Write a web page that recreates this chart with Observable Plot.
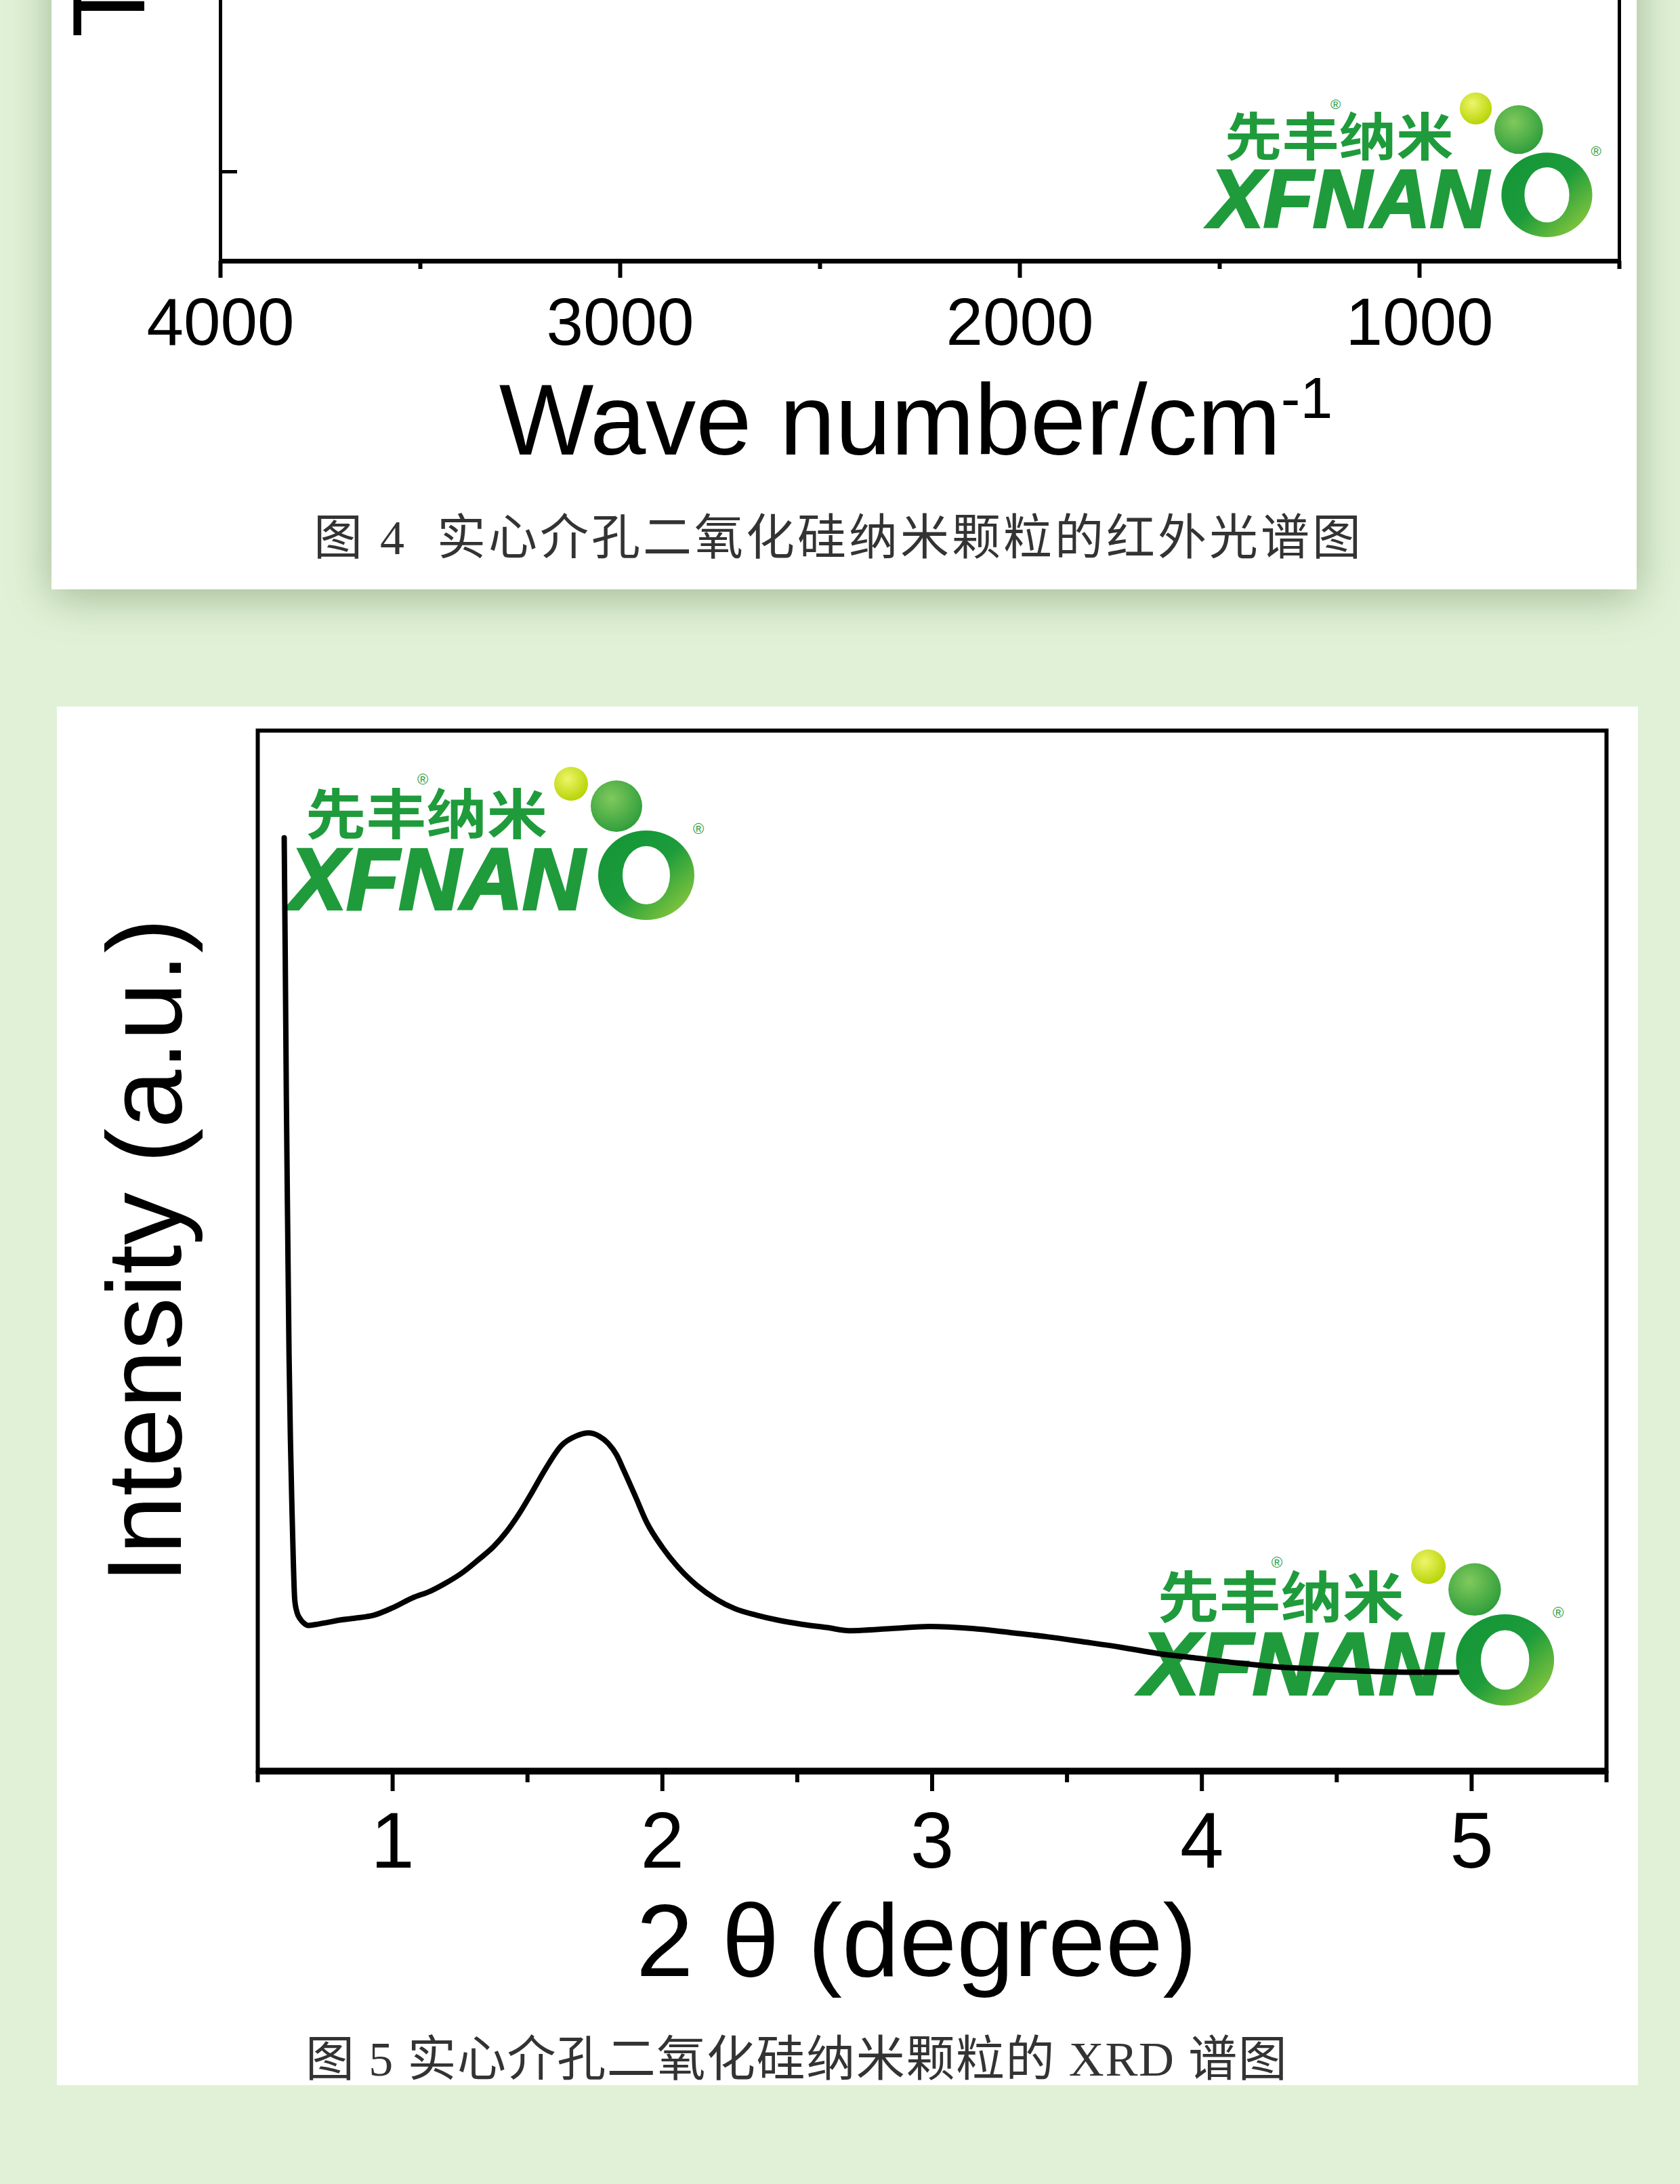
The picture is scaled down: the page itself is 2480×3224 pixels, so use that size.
<!DOCTYPE html>
<html>
<head>
<meta charset="utf-8">
<script src="https://cdn.jsdelivr.net/npm/d3@7"></script>
<script src="https://cdn.jsdelivr.net/npm/@observablehq/plot@0.6"></script>
<style>
html, body { margin: 0; padding: 0; }
body { width: 2480px; height: 3224px; overflow: hidden; background: #e1f1d7; position: relative; font-family: "Liberation Sans", Arial, sans-serif; }
.card { position: absolute; background: #ffffff; }
#card1 { left: 76px; top: -200px; width: 2340px; height: 1070px; box-shadow: 0 10px 60px rgba(70, 105, 50, 0.42); }
#card2 { left: 84px; top: 1043px; width: 2334px; height: 2035px; }
.layer { position: absolute; left: 0; width: 2480px; }
.layer svg { display: block; max-width: none; }
.caption { position: absolute; white-space: nowrap; font-family: "Liberation Serif", "Noto Sans CJK SC", serif; color: #333; line-height: 1; }
</style>
</head>
<body>
<div class="card" id="card1"></div>
<div class="card" id="card2"></div>
<div id="logos"></div>
<div class="layer" id="ir" style="top:-985px"></div>
<div class="layer" id="xrd" style="top:1043px"></div>
<div class="caption" id="cap4" style="left:463px; top:758px; font-size:72px; letter-spacing:4px;">图 4&nbsp; 实心介孔二氧化硅纳米颗粒的红外光谱图</div>
<div class="caption" id="cap5" style="left:451px; top:3004px; font-size:72px; letter-spacing:1.6px;">图 5 实心介孔二氧化硅纳米颗粒的 XRD 谱图</div>
<script>
// ---------- data ----------
const irMajorTicks = [4000, 3000, 2000, 1000];
const irMinorTicks = [3500, 2500, 1500, 500];
const irYTicks = [10, 40, 70];
const irXLabel = "Wave number/cm";
const irXLabelSup = "-1";
const irYLabel = "Transmittance (a.u.)";

const xrdMajorTicks = [1, 2, 3, 4, 5];
const xrdMinorTicks = [0.5, 1.5, 2.5, 3.5, 4.5, 5.5];
const xrdXLabel = "2 θ (degree)";
const xrdYLabel = "Intensity (a.u.)";
const xrdTwoTheta = [0.598, 0.602, 0.606, 0.611, 0.616, 0.621, 0.627, 0.632, 0.637, 0.645, 0.658, 0.672, 0.687, 0.716, 0.76, 0.80, 0.86, 0.932, 1.0, 1.078, 1.14, 1.192, 1.26, 1.322, 1.375, 1.422, 1.468, 1.510, 1.568, 1.626, 1.68, 1.726, 1.765, 1.799, 1.83, 1.857, 1.90, 1.942, 2.0, 2.058, 2.13, 2.201, 2.27, 2.347, 2.43, 2.520, 2.61, 2.693, 2.85, 2.99, 3.15, 3.294, 3.43, 3.568, 3.70, 3.839, 3.967, 4.13, 4.289, 4.45, 4.608, 4.78, 4.945];
const xrdIntensity = [89.7, 78.0, 64.7, 52.0, 40.0, 32.0, 25.0, 20.0, 16.5, 15.3, 14.6, 14.2, 14.0, 14.1, 14.3, 14.5, 14.7, 15.0, 15.7, 16.7, 17.3, 18.0, 19.1, 20.4, 21.6, 23.0, 24.7, 26.5, 29.1, 31.3, 32.2, 32.5, 32.2, 31.5, 30.4, 28.9, 26.4, 23.9, 21.5, 19.6, 17.8, 16.5, 15.6, 15.0, 14.5, 14.1, 13.8, 13.5, 13.7, 13.9, 13.7, 13.3, 12.9, 12.4, 11.9, 11.3, 10.9, 10.4, 10.0, 9.8, 9.6, 9.5, 9.5];

const logoCn = "先丰纳米";
const logoEn = "XFNAN";

// ---------- logos (decoration) ----------
function addLogo(id, ox, oy, s) {
  const vb = [-10, -45, 660, 240];
  const div = document.createElement("div");
  div.style.cssText = `position:absolute;left:${ox + vb[0] * s}px;top:${oy + vb[1] * s}px;width:${vb[2] * s}px;height:${vb[3] * s}px;`;
  const cx = 527, cy = 125, orx = 71, ory = 66, irx = 35, iry = 43;
  const ring = `M${cx - orx},${cy} a${orx},${ory} 0 1,0 ${2 * orx},0 a${orx},${ory} 0 1,0 ${-2 * orx},0 Z ` +
               `M${cx - irx},${cy} a${irx},${iry} 0 1,0 ${2 * irx},0 a${irx},${iry} 0 1,0 ${-2 * irx},0 Z`;
  div.innerHTML = `<svg viewBox="${vb.join(" ")}" width="${vb[2] * s}" height="${vb[3] * s}" style="display:block;overflow:visible">
    <defs>
      <linearGradient id="ring${id}" x1="0" y1="0" x2="1" y2="1">
        <stop offset="0" stop-color="#139436"/>
        <stop offset="0.5" stop-color="#1c9c3b"/>
        <stop offset="1" stop-color="#a2d13e"/>
      </linearGradient>
      <radialGradient id="yb${id}" cx="0.4" cy="0.35" r="0.7">
        <stop offset="0" stop-color="#eef56a"/>
        <stop offset="1" stop-color="#b4d200"/>
      </radialGradient>
      <radialGradient id="gb${id}" cx="0.4" cy="0.35" r="0.7">
        <stop offset="0" stop-color="#80c95c"/>
        <stop offset="1" stop-color="#2c9c3a"/>
      </radialGradient>
    </defs>
    <text x="24" y="64" font-size="80" font-family="Noto Sans CJK SC" font-weight="700" fill="#1f9b3c" textLength="357" lengthAdjust="spacingAndGlyphs">${logoCn}</text>
    <text x="197" y="-9" font-size="22" text-anchor="middle" fill="#1f9b3c" font-family="Liberation Sans">®</text>
    <text x="0" y="175" font-size="128" font-family="Liberation Sans" font-weight="bold" font-style="italic" fill="#1f9b3c" stroke="#1f9b3c" stroke-width="4" textLength="436" lengthAdjust="spacingAndGlyphs">${logoEn}</text>
    <path d="${ring}" fill="url(#ring${id})" fill-rule="evenodd"/>
    <text x="604" y="64" font-size="22" text-anchor="middle" fill="#1f9b3c" font-family="Liberation Sans">®</text>
    <circle cx="416" cy="-10" r="25" fill="url(#yb${id})"/>
    <circle cx="483" cy="23" r="38" fill="url(#gb${id})"/>
  </svg>`;
  document.getElementById("logos").appendChild(div);
}
addLogo(1, 1785, 170, 0.945);
addLogo(2, 427, 1167, 1.0);
addLogo(3, 1684, 2323, 1.02);

const baseStyle = { fontFamily: "Liberation Sans, Arial, sans-serif", background: "transparent", overflow: "visible", color: "black" };

// ---------- IR chart (only its bottom is in view) ----------
const irW = 2480, irH = 1705;
const irML = 325, irMR = 90, irMT = 50, irMB = 335;
const irPlot = Plot.plot({
  width: irW, height: irH,
  marginLeft: irML, marginRight: irMR, marginTop: irMT, marginBottom: irMB,
  style: baseStyle,
  x: { domain: [4000, 500] },
  y: { domain: [0, 100], axis: null },
  marks: [
    Plot.frame({ stroke: "black", strokeWidth: 5 }),
    Plot.ruleY([0], { stroke: "black", strokeWidth: 7 }),
    Plot.tickY(irYTicks, { y: d => d, stroke: "black", strokeWidth: 5, insetRight: (irW - irML - irMR) - 25 }),
    Plot.axisX(irMajorTicks, { tickSize: 25, tickPadding: 29, strokeWidth: 6, fontSize: 98, label: null, tickFormat: d => String(d) }),
    Plot.axisX(irMinorTicks, { tickSize: 12, strokeWidth: 6, label: null, tickFormat: () => "" }),
    Plot.text([irYLabel], { text: d => d, frameAnchor: "bottom-left", rotate: -90, textAnchor: "start", lineAnchor: "middle", dx: 164 - irML, dy: -330, fontSize: 153 }),
    Plot.text([irXLabel], { text: d => d, frameAnchor: "bottom", lineAnchor: "middle", dy: 238, dx: -6, fontSize: 148 })
  ]
});
document.getElementById("ir").appendChild(irPlot);
d3.select(irPlot).selectAll("text").filter(function () { return this.textContent === irXLabel; })
  .append("tspan").attr("dy", -54).attr("font-size", 86).text(irXLabelSup);

// ---------- XRD chart ----------
const xrdW = 2480, xrdH = 2035;
const xrdML = 380, xrdMR = 109, xrdMT = 35, xrdMB = 464;
const xrdIdx = xrdTwoTheta.map((_, i) => i);
const xrdPlot = Plot.plot({
  width: xrdW, height: xrdH,
  marginLeft: xrdML, marginRight: xrdMR, marginTop: xrdMT, marginBottom: xrdMB,
  style: baseStyle,
  x: { domain: [0.5, 5.5] },
  y: { domain: [0, 100], axis: null },
  marks: [
    Plot.frame({ stroke: "black", strokeWidth: 6 }),
    Plot.ruleY([0], { stroke: "black", strokeWidth: 10 }),
    Plot.axisX(xrdMajorTicks, { tickSize: 30, tickPadding: 30, strokeWidth: 6, fontSize: 116, label: null, tickFormat: d => String(d) }),
    Plot.axisX(xrdMinorTicks, { tickSize: 17, strokeWidth: 6, label: null, tickFormat: () => "" }),
    Plot.line(xrdIdx, { x: i => xrdTwoTheta[i], y: i => xrdIntensity[i], stroke: "black", strokeWidth: 8, strokeLinejoin: "round", strokeLinecap: "round", curve: "monotone-x" }),
    Plot.text([xrdYLabel], { text: d => d, frameAnchor: "left", rotate: -90, textAnchor: "middle", lineAnchor: "middle", dx: 217 - xrdML, fontSize: 155 }),
    Plot.text([xrdXLabel], { text: d => d, frameAnchor: "bottom", lineAnchor: "middle", dy: 254, dx: -23, fontSize: 152 })
  ]
});
document.getElementById("xrd").appendChild(xrdPlot);
</script>
</body>
</html>
